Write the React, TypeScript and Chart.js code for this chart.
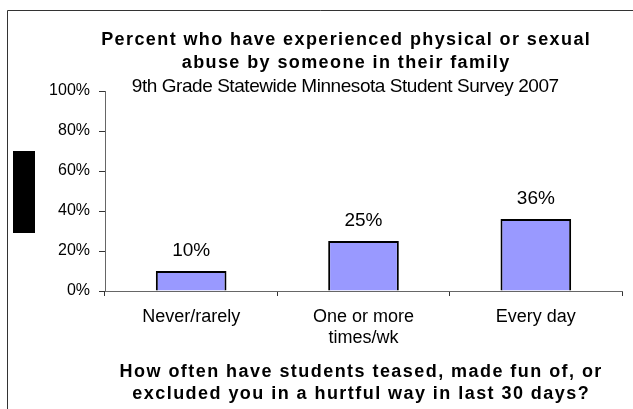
import React, { useEffect, useRef } from 'react';
import { Chart, registerables } from 'chart.js';

Chart.register(...registerables);

const categories: (string | string[])[] = ['Never/rarely', ['One or more', 'times/wk'], 'Every day'];
const values = [10, 25, 36];
const yMin = 0;
const yMax = 100;
const yStep = 20;
const titleLines = ['Percent who have experienced physical or sexual', 'abuse by someone in their family'];
const subtitleText = '9th Grade Statewide Minnesota Student Survey 2007';
const xTitleLines = ['How often have students teased, made fun of, or', 'excluded you in a hurtful way in last 30 days?'];

const FONT = '"Liberation Sans", Arial, sans-serif';

function drawSpaced(ctx: CanvasRenderingContext2D, text: string, cx: number, y: number, spacing: number) {
  (ctx as any).letterSpacing = spacing + 'px';
  const w = ctx.measureText(text).width;
  ctx.textAlign = 'left';
  ctx.fillText(text, cx - (w - spacing) / 2, y);
  (ctx as any).letterSpacing = '0px';
}

const decorPlugin = {
  id: 'decor',
  beforeDraw(chart: any) {
    const ctx: CanvasRenderingContext2D = chart.ctx;
    ctx.save();
    ctx.fillStyle = '#ffffff';
    ctx.fillRect(0, 0, chart.width, chart.height);
    ctx.strokeStyle = '#333333';
    ctx.lineWidth = 1;
    ctx.beginPath();
    ctx.moveTo(chart.width, 10.5);
    ctx.lineTo(7.5, 10.5);
    ctx.lineTo(7.5, chart.height);
    ctx.stroke();
    ctx.fillStyle = '#000000';
    ctx.fillRect(13, 151, 22, 82);
    ctx.restore();
  },
  afterDraw(chart: any) {
    const ctx: CanvasRenderingContext2D = chart.ctx;
    const area = chart.chartArea;
    const cx = (area.left + area.right) / 2;
    ctx.save();
    ctx.fillStyle = '#000000';
    ctx.textBaseline = 'alphabetic';
    ctx.font = `bold 18px ${FONT}`;
    drawSpaced(ctx, titleLines[0], cx - 18, area.top - 46, 1.4);
    drawSpaced(ctx, titleLines[1], cx - 18, area.top - 23, 1.4);
    ctx.font = `19px ${FONT}`;
    drawSpaced(ctx, subtitleText, cx - 18, area.top + 1, -0.45);
    ctx.font = `bold 18px ${FONT}`;
    drawSpaced(ctx, xTitleLines[0], cx - 3, area.bottom + 86, 1.45);
    drawSpaced(ctx, xTitleLines[1], cx - 3, area.bottom + 108, 1.45);

    // value labels
    const meta = chart.getDatasetMeta(0);
    ctx.font = `19px ${FONT}`;
    ctx.textAlign = 'center';
    meta.data.forEach((bar: any, i: number) => {
      ctx.fillText(values[i] + '%', bar.x, bar.y - 15);
    });
    ctx.restore();
  },
};

export default function App() {
  const ref = useRef<HTMLCanvasElement>(null);
  useEffect(() => {
    if (!ref.current) return;
    const chart = new Chart(ref.current, {
      type: 'bar',
      data: {
        labels: categories,
        datasets: [
          {
            data: values,
            backgroundColor: '#9999FF',
            borderColor: '#000000',
            borderWidth: 2,
            barPercentage: 0.41,
            categoryPercentage: 1,
          },
        ],
      },
      options: {
        animation: false,
        responsive: true,
        maintainAspectRatio: false,
        layout: { padding: { top: 91, right: 11, left: 0, bottom: 0 } },
        plugins: {
          legend: { display: false },
          title: { display: false },
          tooltip: { enabled: false },
        },
        scales: {
          x: {
            afterFit: (s: any) => {
              s.height = 118;
            },
            grid: {
              display: true,
              drawOnChartArea: false,
              drawTicks: true,
              tickLength: 5,
              color: '#333333',
              offset: true,
            },
            border: { display: true, color: '#666666', width: 1 },
            ticks: {
              color: '#000000',
              font: { family: FONT, size: 18, lineHeight: 1.2 },
              padding: 10,
              maxRotation: 0,
              autoSkip: false,
            },
          },
          y: {
            min: yMin,
            max: yMax,
            afterFit: (s: any) => {
              s.width = 105;
            },
            grid: {
              display: true,
              drawOnChartArea: false,
              drawTicks: true,
              tickLength: 6,
              color: '#333333',
            },
            border: { display: true, color: '#666666', width: 1 },
            ticks: {
              stepSize: yStep,
              color: '#000000',
              font: { family: FONT, size: 16 },
              padding: 9,
              callback: (v: any) => v + '%',
            },
          },
        },
      },
      plugins: [decorPlugin],
    });
    return () => chart.destroy();
  }, []);
  return (
    <div style={{ position: 'fixed', left: 0, top: 0, width: 633, height: 409, background: '#fff' }}>
      <canvas ref={ref} />
    </div>
  );
}
